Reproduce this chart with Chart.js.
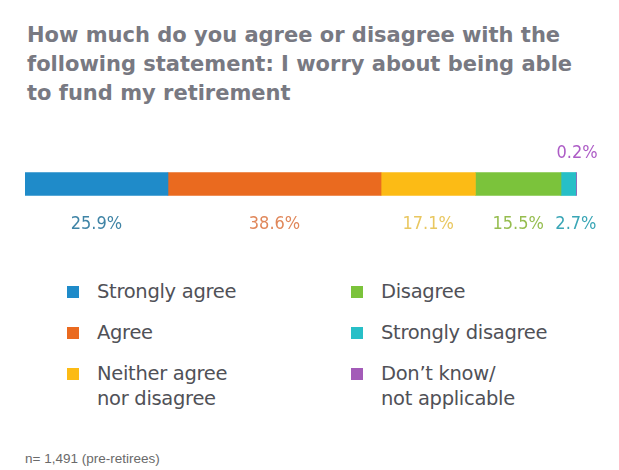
<!DOCTYPE html>
<html>
<head>
<meta charset="utf-8">
<script src="https://cdn.jsdelivr.net/npm/chart.js@4"></script>
<style>
  html, body { margin: 0; padding: 0; background: #fff; }
  #wrap { position: relative; width: 619px; height: 470px; overflow: hidden; }
  #title {
    position: absolute; left: 27px; top: 21px;
    font-family: 'DejaVu Sans', sans-serif; font-weight: 700; font-size: 21px;
    line-height: 29px; color: #787982;
  }
  #chart { position: absolute; left: 0; top: 130px; }
  .leg { position: absolute; font-family: 'DejaVu Sans', sans-serif; font-size: 19.5px;
         line-height: 25px; color: #505157; white-space: pre-line; letter-spacing: -0.3px; }
  .leg i { position: absolute; left: -30px; top: 7px; width: 12px; height: 12px; }
  #note { position: absolute; left: 25px; top: 451px; font-family: 'Liberation Sans', sans-serif;
          font-size: 13.5px; color: #6a6a6a; }
</style>
</head>
<body>
<div id="wrap">
  <div id="title">How much do you agree or disagree with the<br>following statement: I worry about being able<br>to fund my retirement</div>
  <canvas id="chart" width="619" height="110"></canvas>
  <div id="legend"></div>
  <div id="note">n= 1,491 (pre-retirees)</div>
</div>
<script>
// Answers and their shares (%)
const categories = ['Strongly agree', 'Agree', 'Neither agree\nnor disagree', 'Disagree', 'Strongly disagree', 'Don’t know/\nnot applicable'];
const values = [25.9, 38.6, 17.1, 15.5, 2.7, 0.2];
const colors = ['#1f8bc9', '#ea6a1f', '#fcbb15', '#7bc33b', '#27bfc7', '#a35bb8'];
const labelColors = ['#3f84a6', '#e0875a', '#e9c760', '#96bd4f', '#3aa6b6', '#ad5cc6'];

// legend: two columns of three
const legend = document.getElementById('legend');
categories.forEach((name, i) => {
    const col = Math.floor(i / 3), row = i % 3;
    const div = document.createElement('div');
    div.className = 'leg';
    div.style.left = (col === 0 ? 97 : 381) + 'px';
    div.style.top = (279 + row * 41) + 'px';
    div.innerHTML = `<i style="background:${colors[i]}"></i>`;
    div.appendChild(document.createTextNode(name));
    legend.appendChild(div);
});

// percentage labels under (or above) each segment
const valueLabels = {
    id: 'valueLabels',
    afterDatasetsDraw(chart) {
        const ctx = chart.ctx;
        ctx.save();
        ctx.font = '18px "DejaVu Sans Condensed", "Liberation Sans Narrow", sans-serif';
        ctx.textAlign = 'center';
        ctx.textBaseline = 'middle';
        chart.data.datasets.forEach((ds, i) => {
            const bar = chart.getDatasetMeta(i).data[0];
            const v = ds.data[0];
            let x = (bar.x + bar.base) / 2;
            let y = bar.y + 40;
            if (v < 5) x = bar.x;
            if (v < 1) y = bar.y - 31;
            ctx.fillStyle = labelColors[i];
            ctx.fillText(v + '%', x, y);
        });
        ctx.restore();
    }
};

new Chart(document.getElementById('chart'), {
    type: 'bar',
    data: {
        labels: [''],
        datasets: values.map((v, i) => ({
            label: categories[i].replace('\n', ' '),
            data: [v],
            backgroundColor: colors[i],
            borderWidth: 0,
            barThickness: 23
        }))
    },
    options: {
        indexAxis: 'y',
        responsive: false,
        animation: false,
        layout: { padding: { left: 25, right: 42, top: 31, bottom: 33 } },
        scales: {
            x: { stacked: true, min: 0, max: 100, display: false },
            y: { stacked: true, display: false }
        },
        plugins: { legend: { display: false }, tooltip: { enabled: false } }
    },
    plugins: [valueLabels]
});
</script>
</body>
</html>
